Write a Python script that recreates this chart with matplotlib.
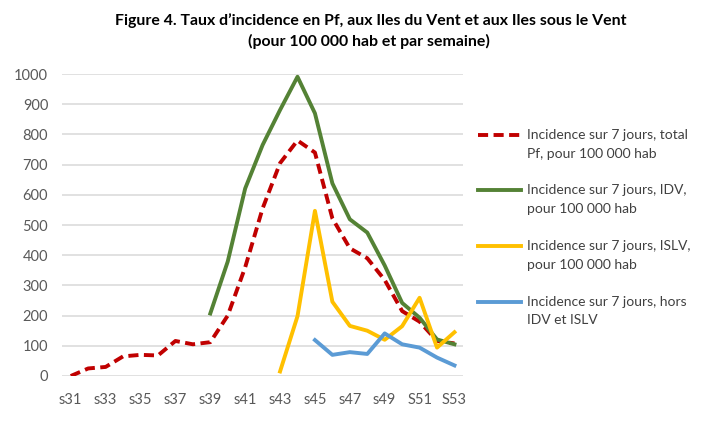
# Figure 4 - taux d'incidence Pf / IDV / ISLV / hors IDV et ISLV
import numpy as np
import matplotlib.pyplot as plt
from matplotlib.lines import Line2D

plt.rcParams['font.family'] = ['Lato', 'DejaVu Sans']

nan = np.nan
semaines = ['s31', 's32', 's33', 's34', 's35', 's36', 's37', 's38', 's39', 's40',
            's41', 's42', 's43', 's44', 's45', 's46', 's47', 's48', 's49', 's50',
            'S51', 'S52', 'S53']

total_pf = [0, 25, 30, 65, 70, 68, 116, 105, 112, 200,
            360, 555, 705, 780, 740, 522, 423, 390, 318, 215,
            180, 116, 108]
idv = [nan, nan, nan, nan, nan, nan, nan, nan, 207, 379,
       621, 765, 881, 991, 870, 638, 519, 475, 366, 242,
       193, 121, 105]
islv = [nan, nan, nan, nan, nan, nan, nan, nan, nan, nan,
        nan, nan, 15, 198, 547, 246, 166, 150, 120, 165,
        259, 94, 145]
hors = [nan, nan, nan, nan, nan, nan, nan, nan, nan, nan,
        nan, nan, nan, nan, 119, 70, 79, 73, 141, 105,
        94, 61, 35]

legendes = [('Incidence sur 7 jours, total', 'Pf, pour 100 000 hab'),
            ('Incidence sur 7 jours, IDV,', 'pour 100 000 hab'),
            ('Incidence sur 7 jours, ISLV,', 'pour 100 000 hab'),
            ('Incidence sur 7 jours, hors', 'IDV et ISLV')]

x = np.arange(len(semaines))
W, H = 705, 428

fig = plt.figure(figsize=(7.05, 4.28), dpi=100)
ax = fig.add_axes([0.088, 0.1215, 0.569, 0.7055])

lw = 2.8
styles = [dict(color='#C00000', linestyle=(0, (2.6, 1.4))),
          dict(color='#548235', linestyle='-'),
          dict(color='#FFC000', linestyle='-'),
          dict(color='#5B9BD5', linestyle='-')]
for serie, st in zip([total_pf, idv, islv, hors], styles):
    ax.plot(x, serie, lw=lw, **st)

ax.set_xlim(-0.5, len(semaines) - 0.5)
ax.set_ylim(0, 1000)
ax.set_yticks(range(0, 1001, 100))
ax.set_xticks(x[::2])
ax.set_xticklabels(semaines[::2])
ax.grid(axis='y', color='#D9D9D9', lw=1.1)
ax.set_axisbelow(True)
for s in ax.spines.values():
    s.set_visible(False)
ax.tick_params(length=0, labelsize=10.5, colors='#595959')
ax.tick_params(axis='y', pad=10)
ax.tick_params(axis='x', pad=12)

fig.text(0.526, 0.953, 'Figure 4. Taux d\u2019incidence en Pf, aux Iles du Vent et aux Iles sous le Vent',
         ha='center', va='center', fontsize=11.4, fontweight='bold', color='black')
fig.text(0.523, 0.904, '(pour 100 000 hab et par semaine)',
         ha='center', va='center', fontsize=11.4, fontweight='bold', color='black')

# legende a droite, trait aligne sur la premiere ligne du texte
for i, ((l1, l2), st) in enumerate(zip(legendes, styles)):
    y0 = 135 + i * 55.5
    fig.add_artist(Line2D([478 / W, 521 / W], [1 - y0 / H, 1 - y0 / H],
                          lw=lw, transform=fig.transFigure, **st))
    fig.text(527 / W, 1 - y0 / H, l1, ha='left', va='center',
             fontsize=10, color='#404040')
    fig.text(527 / W, 1 - (y0 + 19) / H, l2, ha='left', va='center',
             fontsize=10, color='#404040')

fig.savefig('out.png', dpi=100)
